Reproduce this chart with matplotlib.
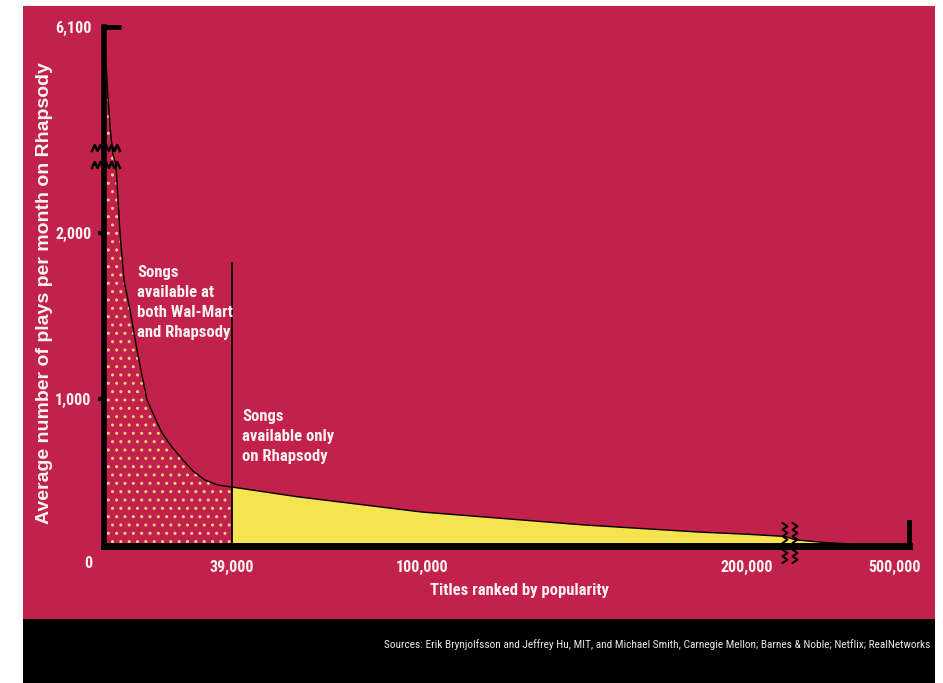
import numpy as np
import matplotlib
matplotlib.use("Agg")
import matplotlib.pyplot as plt
from matplotlib import font_manager as fm
from matplotlib.patches import Rectangle
from matplotlib.transforms import ScaledTranslation

# ---------------- data ----------------
ranks = [0, 500, 1200, 2000, 2700, 3650, 4875, 6090, 7920, 10050, 11550, 13100,
         15540, 17670, 20700, 24070, 27100, 30770, 34700, 39000, 60000, 100000,
         150000, 185000, 200000, 212000, 220000, 300000, 400000, 500000]
plays = [6100, 5400, 4300, 3400, 2800, 2420, 2000, 1717, 1536, 1295, 1145, 995,
         871, 769, 673, 585, 510, 449, 415, 401, 335, 231,
         143, 95, 80, 65, 42, 22, 8, 2]
split_rank = 39000
x_ticks = [39000, 100000, 200000, 500000]
x_tick_labels = ["39,000", "100,000", "200,000", "500,000"]
y_ticks = [1000, 2000]
y_tick_labels = ["1,000", "2,000"]
y_top = 6100
y_top_label = "6,100"
y_break = (2420, 3000)
x_break = (212000, 220000)
label_left = "Songs\navailable at\nboth Wal-Mart\nand Rhapsody"
label_right = "Songs\navailable only\non Rhapsody"
xlabel = "Titles ranked by popularity"
ylabel = "Average number of plays per month on Rhapsody"
source = ("Sources: Erik Brynjolfsson and Jeffrey Hu, MIT, and Michael Smith, "
          "Carnegie Mellon; Barnes & Noble; Netflix; RealNetworks")

# ---------------- fonts / colours ----------------
names = {f.name for f in fm.fontManager.ttflist}
NARROW = "Liberation Sans"
for cand in ["Roboto Condensed", "Barlow Condensed", "Archivo Narrow"]:
    if cand in names:
        NARROW = cand
        break
CRIMSON = "#C1214A"
YELLOW = "#F6E350"
DOT = "#F2D37C"
WHITE = "#FAF2F2"
plt.rcParams["hatch.linewidth"] = 1.0

XD = [0, 39000, 100000, 200000, x_break[0], x_break[1], 500000]
XP = [0, 128, 318, 643, 681, 691, 805]
YD = [0, 1000, 2000, y_break[0], y_break[1], 6100]
YP = [0, 147, 313, 381, 398, 519]

def fx(v): return np.interp(v, XD, XP)
def fxi(p): return np.interp(p, XP, XD)
def fy(v): return np.interp(v, YD, YP)
def fyi(p): return np.interp(p, YP, YD)

W, H = 943, 683
fig = plt.figure(figsize=(W / 100, H / 100), dpi=100, facecolor="white")
fig.patches.append(Rectangle((23 / W, (H - 619) / H), (935 - 23) / W, (619 - 6) / H,
                             transform=fig.transFigure, facecolor=CRIMSON, edgecolor="none", zorder=-10))
fig.patches.append(Rectangle((23 / W, 0), (935 - 23) / W, (H - 619) / H,
                             transform=fig.transFigure, facecolor="black", edgecolor="none", zorder=-10))

ax = fig.add_axes([104 / W, (H - 546) / H, 805 / W, 519 / H])
ax.set_facecolor("none")
ax.set_xscale("function", functions=(fx, fxi))
ax.set_yscale("function", functions=(fy, fyi))
ax.set_xlim(0, 500000)
ax.set_ylim(0, y_top)

r = np.array(ranks, float)
p = np.array(plays, float)
i = ranks.index(split_rank)
ax.fill_between(r[:i + 1], 0, p[:i + 1], facecolor=CRIMSON, edgecolor=DOT, hatch="..",
                linewidth=0, zorder=1)
ax.fill_between(r[i:], 0, p[i:], facecolor=YELLOW, linewidth=0, zorder=1)
ax.plot(r, p, color="black", lw=1.0, zorder=2)
ax.plot([split_rank, split_rank], [0, 1820], color="black", lw=1.3, zorder=2)

ax.spines["top"].set_visible(False)
ax.spines["left"].set_linewidth(4)
ax.spines["bottom"].set_linewidth(5)
ax.spines["right"].set_linewidth(3.5)
ax.spines["right"].set_bounds(0, 165)
for s in ["left", "bottom", "right"]:
    ax.spines[s].set_color("black")
    ax.spines[s].set_zorder(3)

TICK_FS = 11.5
ax.set_xticks(x_ticks, labels=x_tick_labels)
ax.set_xticks([39000, 200000], minor=True)
ax.tick_params(axis="x", which="major", length=0, pad=10, labelsize=TICK_FS, labelcolor=WHITE)
ax.tick_params(axis="x", which="minor", length=7, width=2, direction="out", color="black")
ax.set_yticks(y_ticks, labels=y_tick_labels)
ax.set_yticks([y_top], labels=[y_top_label], minor=True)
ax.tick_params(axis="y", which="major", length=4, width=3, pad=5, labelsize=TICK_FS,
               labelcolor=WHITE, color="black")
ax.tick_params(axis="y", which="minor", length=12, width=3.5, direction="in", pad=9,
               labelsize=TICK_FS, labelcolor=WHITE, color="black")
ax.tick_params(axis="y", right=False, which="both")
for lab in ax.get_xticklabels() + ax.get_yticklabels() + ax.get_yticklabels(minor=True):
    lab.set_fontfamily(NARROW)
    lab.set_fontweight("bold")
xl = ax.get_xticklabels()
xl[-1].set_transform(xl[-1].get_transform() + ScaledTranslation(-14 / 100, 0, fig.dpi_scale_trans))
ax.annotate("0", xy=(0, 0), xytext=(-16, -17), textcoords="offset pixels",
            ha="center", va="center", color=WHITE, fontsize=TICK_FS, fontweight="bold",
            family=NARROW)

def zig(n=6, amp=3.0):
    t = np.linspace(0, 1, 2 * n + 1)
    s = np.where(np.arange(2 * n + 1) % 2 == 0, -amp, amp)
    return t, s

t, s = zig(5, 3.0)
for v in y_break:
    yy = fy(v) / 519 + s / 519
    xx = (-12 + 28 * t) / 805
    ax.plot(xx, yy, transform=ax.transAxes, color="black", lw=1.8, clip_on=False, zorder=4)
t, s = zig(6, 2.5)
for v in x_break:
    xx = fx(v) / 805 + s / 805
    yy = (-17 + 40 * t) / 519
    ax.plot(xx, yy, transform=ax.transAxes, color="black", lw=1.4, clip_on=False, zorder=4)

fig.text(137 / W, 1 - 265 / H, label_left, ha="left", va="top", color=WHITE,
         fontsize=12, fontweight="bold", family=NARROW, linespacing=1.42)
fig.text(242 / W, 1 - 409 / H, label_right, ha="left", va="top", color=WHITE,
         fontsize=12, fontweight="bold", family=NARROW, linespacing=1.42)
fig.text(519 / W, 1 - 590 / H, xlabel, ha="center", va="center", color=WHITE,
         fontsize=12, fontweight="bold", family=NARROW)
fig.text(45 / W, 1 - 293 / H, ylabel, ha="center", va="center", rotation=90,
         color=WHITE, fontsize=14, fontweight="bold", family="Liberation Sans")
fig.text(930 / W, 1 - 645 / H, source, ha="right", va="center", color="#E6E6E6",
         fontsize=8.2, family=NARROW)

fig.savefig("out.png", dpi=100, facecolor="white")
